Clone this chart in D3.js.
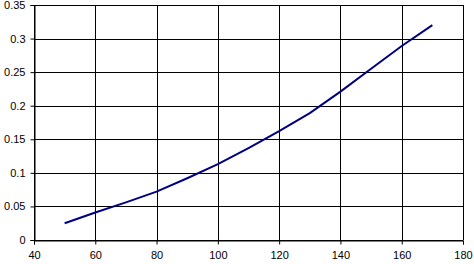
<!DOCTYPE html>
<html>
<head>
<meta charset="utf-8">
<script src="https://cdn.jsdelivr.net/npm/d3@7"></script>
<style>
  body { margin: 0; background: #fff; }
  text { font-family: "Liberation Sans", Arial, sans-serif; font-size: 11px; fill: #000; }
</style>
</head>
<body>
<div id="chart"></div>
<script>
// values
var xVals = [50, 60, 70, 80, 90, 100, 110, 120, 130, 140, 150, 160, 170];
var yVals = [0.025, 0.041, 0.056, 0.072, 0.092, 0.113, 0.137, 0.162, 0.189, 0.221, 0.255, 0.289, 0.32];
var xTicks = [40, 60, 80, 100, 120, 140, 160, 180];
var yTicks = [0, 0.05, 0.1, 0.15, 0.2, 0.25, 0.3, 0.35];

var W = 474, H = 264;
var margin = {top: 5, right: 11, bottom: 24, left: 34};
var width = W - margin.left - margin.right,
    height = H - margin.top - margin.bottom;

var svg = d3.select("#chart")
  .append("svg")
    .attr("width", W)
    .attr("height", H)
  .append("g")
    .attr("transform", "translate(" + margin.left + "," + margin.top + ")");

var x = d3.scaleLinear().domain([40, 180]).range([0, width]);
var y = d3.scaleLinear().domain([0, 0.35]).range([height, 0]);

// grid
svg.append("g")
  .selectAll("line")
  .data(xTicks)
  .enter().append("line")
    .attr("x1", d => Math.round(x(d)) + 0.5)
    .attr("x2", d => Math.round(x(d)) + 0.5)
    .attr("y1", 0)
    .attr("y2", height)
    .attr("stroke", "#000")
    .attr("shape-rendering", "crispEdges");

svg.append("g")
  .selectAll("line")
  .data(yTicks)
  .enter().append("line")
    .attr("y1", d => Math.round(y(d)) + 0.5)
    .attr("y2", d => Math.round(y(d)) + 0.5)
    .attr("x1", 0)
    .attr("x2", width)
    .attr("stroke", "#000")
    .attr("shape-rendering", "crispEdges");

// axes
var xAxis = svg.append("g")
  .attr("transform", "translate(0," + (Math.round(height) + 0.5) + ")")
  .call(d3.axisBottom(x).tickValues(xTicks).tickSize(4).tickPadding(7).tickFormat(d3.format("")));

var yAxis = svg.append("g")
  .attr("transform", "translate(0.5,0)")
  .call(d3.axisLeft(y).tickValues(yTicks).tickSize(4).tickPadding(5).tickFormat(d => d3.format("")(d)));

[xAxis, yAxis].forEach(function(a) {
  a.select(".domain").attr("stroke", "#000");
  a.selectAll(".tick line").attr("stroke", "#000");
  a.selectAll("text").style("font-size", "11px").attr("fill", "#000");
});

// series line
var pts = xVals.map((v, i) => [v, yVals[i]]);
svg.append("path")
  .datum(pts)
  .attr("fill", "none")
  .attr("stroke", "#000080")
  .attr("stroke-width", 2)
  .attr("d", d3.line().x(d => x(d[0])).y(d => y(d[1])));
</script>
</body>
</html>
